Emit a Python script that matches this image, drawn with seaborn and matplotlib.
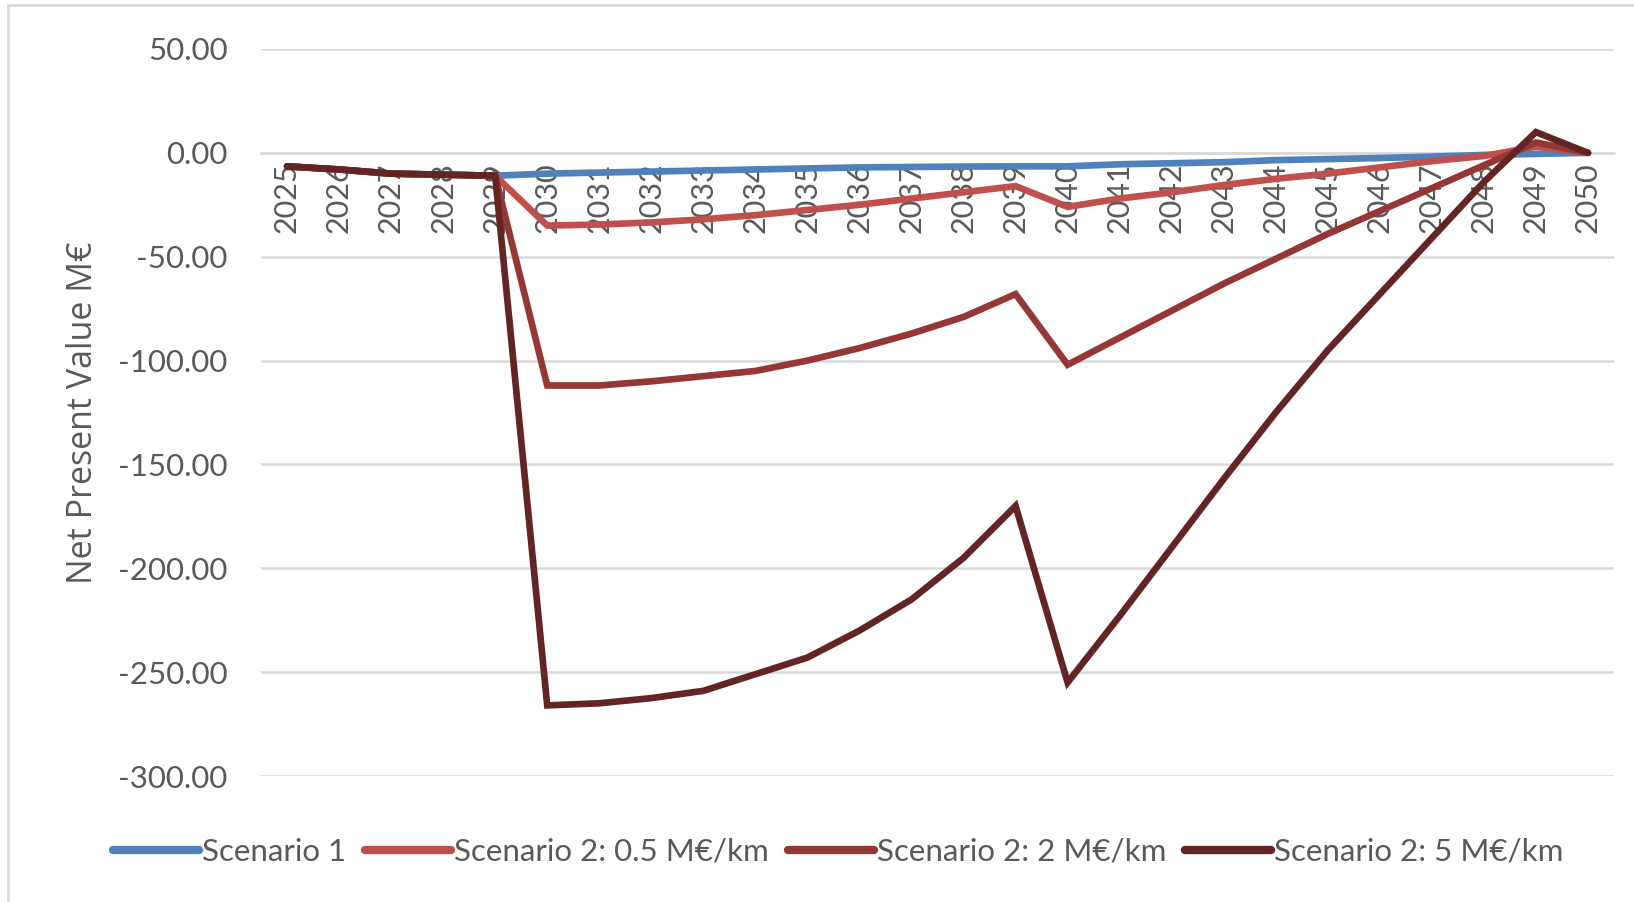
import matplotlib
matplotlib.use("Agg")
import matplotlib.pyplot as plt
from matplotlib.patches import Rectangle
import seaborn as sns
import pandas as pd

years = list(range(2025, 2051))

scenario_1 = [-6.5, -8, -10, -10.5, -11, -10, -9.5, -9, -8.5, -8, -7.5, -7, -6.8,
              -6.6, -6.5, -6.5, -5.5, -5, -4.5, -3.5, -3, -2.5, -1.8, -1, -0.5, 0]
scenario_2_05 = [-6.5, -8, -10, -10.5, -11, -35, -34.5, -33.5, -32, -30, -27.5, -25,
                 -22, -19, -16, -26, -22, -19, -15.5, -12.5, -10, -7, -4, -1.5, 3, 0]
scenario_2_2 = [-6.5, -8, -10, -10.5, -11, -112, -112, -110, -107.5, -105, -100, -94,
                -87, -79, -68, -102, -89, -76, -63, -51, -39, -28, -17, -6, 5, 0]
scenario_2_5 = [-6.5, -8, -10, -10.5, -11, -266, -265, -262.5, -259, -251, -243, -230,
                -215, -195, -170, -255, -223, -190, -157, -125, -95, -68, -41, -14, 10, 0]

series_names = ["Scenario 1", "Scenario 2: 0.5 M€/km",
                "Scenario 2: 2 M€/km", "Scenario 2: 5 M€/km"]
series_values = [scenario_1, scenario_2_05, scenario_2_2, scenario_2_5]
colors = ["#4F81BD", "#C0504D", "#953735", "#632523"]

y_ticks = [50, 0, -50, -100, -150, -200, -250, -300]

rows = []
for name, vals in zip(series_names, series_values):
    for yr, v in zip(years, vals):
        rows.append({"Year": yr, "Value": v, "Series": name})
df = pd.DataFrame(rows)

sns.set_theme(style="white")
plt.rcParams["font.family"] = ["Lato", "DejaVu Sans"]

fig = plt.figure(figsize=(16.34, 9.02), dpi=100)
ax = fig.add_axes([261 / 1634, 1 - 776 / 902, (1614 - 261) / 1634, (776 - 49) / 902])

sns.lineplot(data=df, x="Year", y="Value", hue="Series", hue_order=series_names,
             palette=colors, linewidth=4.8, ax=ax, legend=False,
             solid_joinstyle="miter", solid_capstyle="round")

ax.set_xlim(2024.5, 2050.5)
ax.set_ylim(-300, 50)
ax.set_yticks(y_ticks)
ax.set_yticklabels([f"{v:.2f}" for v in y_ticks])
ax.set_xticks(years)
ax.set_xticklabels([str(y) for y in years])

ax.grid(axis="y", color="#D9D9D9", linewidth=1.8)
ax.grid(axis="x", visible=False)
ax.set_axisbelow(True)
for side in ["top", "right", "left"]:
    ax.spines[side].set_visible(False)
ax.spines["bottom"].set_position(("data", 0))
ax.spines["bottom"].set_color("#D9D9D9")
ax.spines["bottom"].set_linewidth(1.8)
ax.spines["bottom"].set_zorder(0)

ax.tick_params(axis="y", length=0, pad=24, labelsize=22.5, labelcolor="#595959")
ax.tick_params(axis="x", length=0, pad=7, labelsize=22, labelcolor="#595959",
               labelrotation=90)

ax.set_xlabel("")
ax.set_ylabel("Net Present Value M€", fontsize=24.5, color="#595959",
              family=["Open Sans", "DejaVu Sans"])
ax.yaxis.set_label_coords((100 - 261) / (1614 - 261), 0.5)

handles = [plt.Line2D([], [], color=c, linewidth=6, solid_capstyle="round")
           for c in colors]
fig.legend(handles, series_names, loc="center", bbox_to_anchor=(0.513, 1 - 852 / 902),
           ncol=4, frameon=False, fontsize=22.5, handlelength=2.75, handletextpad=0.1,
           columnspacing=0.6, labelcolor="#595959")

fig.add_artist(Rectangle((8 / 1634, -0.05), 1.2, 1 - 5 / 902 + 0.05,
                         transform=fig.transFigure, fill=False,
                         edgecolor="#D9D9D9", linewidth=2))

fig.savefig("out.png", dpi=100, facecolor="white")
